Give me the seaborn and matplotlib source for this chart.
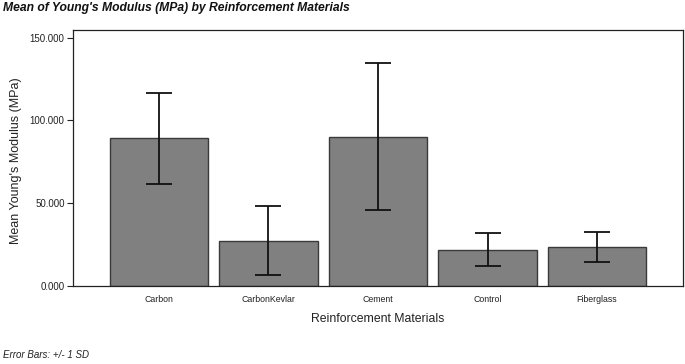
import matplotlib
matplotlib.use("Agg")
import matplotlib.pyplot as plt
import seaborn as sns
import pandas as pd
from matplotlib.ticker import FormatStrFormatter

# Values
materials = ["Carbon", "CarbonKevlar", "Cement", "Control", "Fiberglass"]
mean_modulus = [89.2, 27.3, 90.2, 21.8, 23.3]
sd_modulus = [27.6, 20.9, 44.5, 10.0, 9.1]

df = pd.DataFrame({"material": materials, "mean": mean_modulus, "sd": sd_modulus})

sns.set_style("white")
plt.rcParams["font.family"] = ["Liberation Sans", "DejaVu Sans"]

fig = plt.figure(figsize=(6.85, 3.64), dpi=100)
ax = fig.add_axes([73 / 685, 1 - 286 / 364, (683 - 73) / 685, (286 - 30) / 364])

sns.barplot(data=df, x="material", y="mean", color="#808080", saturation=1,
            width=0.9, edgecolor="#3a3a3a", linewidth=1.0, errorbar=None, ax=ax)
ax.errorbar(range(len(materials)), df["mean"], yerr=df["sd"], fmt="none",
            ecolor="#111111", elinewidth=1.3, capsize=9.5, capthick=1.3)

ax.set_xlim(-0.785, 4.785)
ax.set_ylim(0, 154.6)
ax.set_yticks([0, 50, 100, 150])
ax.yaxis.set_major_formatter(FormatStrFormatter("%.3f"))

for s in ax.spines.values():
    s.set_color("#222222")
    s.set_linewidth(0.9)

ax.tick_params(axis="y", which="both", left=True, length=4, width=0.8,
               labelsize=7, colors="#222222", pad=2)
ax.tick_params(axis="x", bottom=False, labelsize=6.3, colors="#222222", pad=3)

ax.set_xlabel("")
ax.set_ylabel("")
fig.text(378 / 685, 1 - 319 / 364, "Reinforcement Materials", fontsize=8.8,
         color="#222222", ha="center", va="center")
fig.text(16 / 685, 1 - 161 / 364, "Mean Young's Modulus (MPa)", fontsize=9,
         color="#222222", ha="center", va="center", rotation=90)

fig.text(3 / 685, 1 - 8 / 364, "Mean of Young's Modulus (MPa) by Reinforcement Materials",
         fontsize=8.7, fontweight="bold", fontstyle="italic", ha="left", va="center",
         color="#111111")
fig.text(3 / 685, 1 - 355 / 364, "Error Bars: +/- 1 SD", fontsize=7,
         fontstyle="italic", ha="left", va="center", color="#222222")

fig.savefig("out.png", dpi=100)
